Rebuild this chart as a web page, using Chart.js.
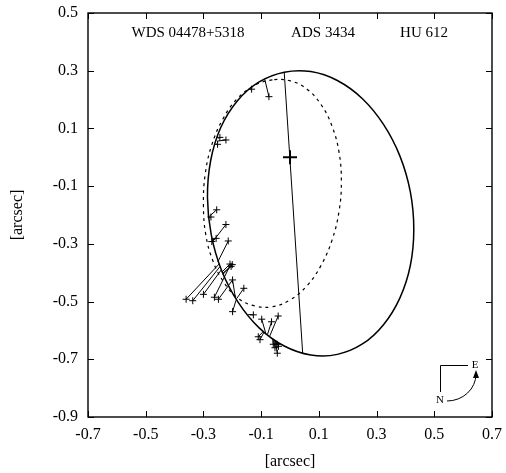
<!DOCTYPE html>
<html>
<head>
<meta charset="utf-8">
<title>WDS 04478+5318 orbit</title>
<script src="https://cdn.jsdelivr.net/npm/chart.js@4.4.1/dist/chart.umd.min.js"></script>
<style>
  html, body { margin: 0; padding: 0; background: #fff; }
  canvas { display: block; }
</style>
</head>
<body>
<canvas id="orbitChart" width="506" height="473"></canvas>
<script>
// axis ticks [arcsec]
var xTicks = [-0.7, -0.5, -0.3, -0.1, 0.1, 0.3, 0.5, 0.7];
var yTicks = [-0.9, -0.7, -0.5, -0.3, -0.1, 0.1, 0.3, 0.5];

// new orbit (solid ellipse)
var orbitX = [0.072, -0.020, -0.107, -0.182, -0.240, -0.275, -0.286, -0.273, -0.237, -0.180, -0.107, -0.020,
              0.072, 0.164, 0.251, 0.324, 0.381, 0.417, 0.429, 0.417, 0.381, 0.324, 0.251, 0.164];
var orbitY = [0.297, 0.295, 0.261, 0.196, 0.103, -0.012, -0.139, -0.268, -0.392, -0.502, -0.591, -0.654,
              -0.685, -0.683, -0.647, -0.580, -0.487, -0.375, -0.249, -0.120, 0.004, 0.114, 0.203, 0.266];

// previous orbit (dashed ellipse)
var oldOrbitX = [-0.061, -0.123, -0.183, -0.233, -0.272, -0.294, -0.300, -0.292, -0.268, -0.230, -0.181, -0.123,
                 -0.061, 0.001, 0.059, 0.108, 0.146, 0.170, 0.178, 0.170, 0.146, 0.108, 0.059, 0.001];
var oldOrbitY = [0.268, 0.249, 0.203, 0.132, 0.040, -0.060, -0.166, -0.267, -0.357, -0.432, -0.488, -0.515,
                 -0.518, -0.494, -0.445, -0.374, -0.286, -0.187, -0.084, 0.017, 0.107, 0.182, 0.236, 0.265];

// line of nodes
var nodesX = [-0.020, 0.044];
var nodesY = [0.295, -0.680];

// primary
var primaryX = [0.0];
var primaryY = [0.0];

// measures (+) and their positions on the orbit
var obsX = [-0.073, -0.133, -0.243, -0.222, -0.251, -0.254, -0.274, -0.222, -0.271, -0.256, -0.214,
            -0.360, -0.337, -0.300, -0.208, -0.200, -0.204, -0.262, -0.248, -0.199, -0.160, -0.199,
            -0.127, -0.098, -0.064, -0.041, -0.110, -0.104, -0.058, -0.052, -0.045, -0.040, -0.044];
var obsY = [0.210, 0.236, 0.069, 0.060, 0.045, -0.182, -0.207, -0.233, -0.292, -0.281, -0.290,
            -0.492, -0.497, -0.475, -0.370, -0.372, -0.378, -0.485, -0.492, -0.425, -0.454, -0.535,
            -0.546, -0.561, -0.570, -0.550, -0.622, -0.632, -0.648, -0.660, -0.648, -0.655, -0.679];
var calcX = [-0.087, -0.137, -0.248, -0.252, -0.256, -0.280, -0.281, -0.266, -0.267, -0.268, -0.250,
             -0.244, -0.242, -0.238, -0.236, -0.234, -0.233, -0.206, -0.199, -0.190, -0.185, -0.187,
             -0.145, -0.084, -0.078, -0.070, -0.093, -0.090, -0.060, -0.056, -0.050, -0.046, -0.052];
var calcY = [0.268, 0.234, 0.064, 0.056, 0.046, -0.205, -0.210, -0.290, -0.292, -0.286, -0.362,
             -0.368, -0.378, -0.390, -0.398, -0.403, -0.406, -0.372, -0.425, -0.482, -0.490, -0.495,
             -0.545, -0.610, -0.614, -0.619, -0.604, -0.606, -0.629, -0.632, -0.636, -0.638, -0.634];

var titles = ['WDS 04478+5318', 'ADS 3434', 'HU 612'];

function toPoints(xs, ys) {
    return xs.map(function (x, i) { return { x: x, y: ys[i] }; });
}

// closed curve: wrap one point on each side so the spline is smooth all round
function toLoop(xs, ys) {
    var pts = toPoints(xs, ys);
    var n = pts.length;
    return [pts[n - 1]].concat(pts, [pts[0], pts[1]]);
}

// hide the two wrap-around segments at the ends
function loopSegment(color) {
    return {
        borderColor: function (c) {
            var last = c.chart.data.datasets[c.datasetIndex].data.length - 1;
            return (c.p0DataIndex === 0 || c.p1DataIndex === last) ? 'rgba(0,0,0,0)' : color;
        }
    };
}

var residuals = [];
obsX.forEach(function (x, i) {
    residuals.push({ x: x, y: obsY[i] });
    residuals.push({ x: calcX[i], y: calcY[i] });
    residuals.push({ x: null, y: null });
});

var serif = '"Liberation Serif", "Times New Roman", serif';
Chart.defaults.font.family = serif;
Chart.defaults.color = '#000';

// frame, inward ticks, header texts and the N/E compass
var decorPlugin = {
    id: 'decor',
    afterDraw: function (chart) {
        var ctx = chart.ctx, a = chart.chartArea;
        var xs = chart.scales.x, ys = chart.scales.y;
        ctx.save();
        ctx.strokeStyle = '#000';
        ctx.lineWidth = 1.4;
        ctx.strokeRect(a.left, a.top, a.right - a.left, a.bottom - a.top);

        ctx.lineWidth = 1;
        ctx.beginPath();
        xTicks.forEach(function (v) {
            var p = Math.round(xs.getPixelForValue(v)) + 0.5;
            ctx.moveTo(p, a.bottom); ctx.lineTo(p, a.bottom - 6);
            ctx.moveTo(p, a.top); ctx.lineTo(p, a.top + 6);
        });
        yTicks.forEach(function (v) {
            var p = Math.round(ys.getPixelForValue(v)) + 0.5;
            ctx.moveTo(a.left, p); ctx.lineTo(a.left + 6, p);
            ctx.moveTo(a.right, p); ctx.lineTo(a.right - 6, p);
        });
        ctx.stroke();

        ctx.fillStyle = '#000';
        ctx.font = '15px ' + serif;
        ctx.textAlign = 'center';
        ctx.textBaseline = 'middle';
        var titleOffsets = [100, 235, 336];
        titles.forEach(function (t, i) {
            ctx.fillText(t, a.left + titleOffsets[i], a.top + 20);
        });

        // compass
        var cx = a.right - 52, cy = a.bottom - 52;
        ctx.beginPath();
        ctx.moveTo(cx + 0.5, cy + 27);
        ctx.lineTo(cx + 0.5, cy + 0.5);
        ctx.lineTo(cx + 28, cy + 0.5);
        ctx.stroke();
        ctx.beginPath();
        ctx.ellipse(cx + 7, cy + 9, 29, 27, 0, Math.PI / 2, 0, true);
        ctx.stroke();
        ctx.beginPath();
        ctx.moveTo(cx + 36, cy + 5);
        ctx.lineTo(cx + 33, cy + 13);
        ctx.lineTo(cx + 39, cy + 13);
        ctx.closePath();
        ctx.fill();
        ctx.font = '11px ' + serif;
        ctx.fillText('N', cx, cy + 35);
        ctx.fillText('E', cx + 35, cy);
        ctx.restore();
    }
};

var ctxOrbit = document.getElementById('orbitChart').getContext('2d');

var orbitChart = new Chart(ctxOrbit, {
    type: 'scatter',
    data: {
        datasets: [{
            label: 'orbit',
            data: toLoop(orbitX, orbitY),
            showLine: true,
            borderColor: '#000',
            borderWidth: 1.5,
            tension: 0.4,
            pointRadius: 0,
            segment: loopSegment('#000')
        }, {
            label: 'previous orbit',
            data: toLoop(oldOrbitX, oldOrbitY),
            showLine: true,
            borderColor: '#000',
            borderWidth: 1.2,
            borderDash: [3, 4],
            tension: 0.4,
            pointRadius: 0,
            segment: loopSegment('#000')
        }, {
            label: 'line of nodes',
            data: toPoints(nodesX, nodesY),
            showLine: true,
            borderColor: '#000',
            borderWidth: 1,
            pointRadius: 0
        }, {
            label: 'residuals',
            data: residuals,
            showLine: true,
            spanGaps: false,
            borderColor: '#000',
            borderWidth: 1,
            pointRadius: 0
        }, {
            label: 'measures',
            data: toPoints(obsX, obsY),
            pointStyle: 'cross',
            pointRadius: 3.5,
            borderColor: '#000',
            borderWidth: 1
        }, {
            label: 'primary',
            data: toPoints(primaryX, primaryY),
            pointStyle: 'cross',
            pointRadius: 7,
            borderColor: '#000',
            borderWidth: 2
        }]
    },
    options: {
        responsive: false,
        animation: false,
        events: [],
        layout: { padding: { top: 13, right: 14, left: 0, bottom: 0 } },
        plugins: {
            legend: { display: false },
            tooltip: { enabled: false }
        },
        scales: {
            x: {
                type: 'linear',
                min: -0.7,
                max: 0.7,
                afterFit: function (scale) {
                    scale.height = 56;
                    scale.paddingLeft = 0;
                    scale.paddingRight = 0;
                },
                afterBuildTicks: function (scale) {
                    scale.ticks = xTicks.map(function (v) { return { value: v }; });
                },
                grid: { display: false, drawTicks: false },
                border: { display: false },
                ticks: {
                    padding: 8,
                    maxRotation: 0,
                    font: { size: 16 },
                    callback: function (v) { return Number(v).toFixed(1); }
                },
                title: {
                    display: true,
                    text: '[arcsec]',
                    font: { size: 16 },
                    padding: { top: 0, bottom: 2 }
                }
            },
            y: {
                type: 'linear',
                min: -0.9,
                max: 0.5,
                afterFit: function (scale) {
                    scale.width = 88;
                    scale.paddingTop = 0;
                    scale.paddingBottom = 0;
                },
                afterBuildTicks: function (scale) {
                    scale.ticks = yTicks.map(function (v) { return { value: v }; });
                },
                grid: { display: false, drawTicks: false },
                border: { display: false },
                ticks: {
                    padding: 10,
                    font: { size: 16 },
                    callback: function (v) { return Number(v).toFixed(1); }
                },
                title: {
                    display: true,
                    text: '[arcsec]',
                    font: { size: 16 },
                    padding: { top: 8, bottom: 0 }
                }
            }
        }
    },
    plugins: [decorPlugin]
});
</script>
</body>
</html>
